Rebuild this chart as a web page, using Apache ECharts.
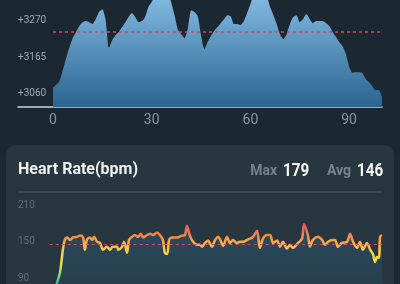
<!DOCTYPE html>
<html><head><meta charset="utf-8">
<script src="https://cdn.jsdelivr.net/npm/echarts@6/dist/echarts.min.js"></script>
<style>html,body{margin:0;padding:0;background:#1c2831;}#c{width:400px;height:284px;}</style>
</head><body><div id="c"></div>
<script>
// Altitude (top chart)
const altTime = [];
for (let i = 0; i <= 100; i++) altTime.push(i);
const altValues = [3077,3086,3097,3128,3162,3193,3219,3236,3253,3264,
  3267,3264,3259,3273,3293,3301,3270,3191,3213,3227,
  3236,3250,3264,3279,3290,3279,3264,3267,3279,3307,
  3321,3341,3361,3369,3361,3347,3318,3281,3242,3230,
  3219,3247,3298,3293,3281,3227,3188,3208,3225,3239,
  3250,3261,3273,3284,3281,3259,3259,3256,3267,3290,
  3315,3344,3364,3369,3361,3338,3307,3284,3259,3230,
  3216,3230,3259,3279,3284,3264,3273,3287,3273,3261,
  3267,3267,3267,3261,3253,3236,3222,3208,3196,3174,
  3139,3120,3122,3122,3120,3103,3094,3083,3071,3071,3051];
const altTicks = [3060, 3165, 3270];
const altAvg = 3238;
const timeTicks = [0, 30, 60, 90];

// Heart rate (bottom chart)
const hrTime = [0.6,1.2,2.1,3.0,3.6,4.3,5.2,6.1,7.3,8.2,
  9.1,9.7,10.3,11.2,11.9,12.5,13.4,14.3,15.2,16.4,
  17.3,18.2,19.5,19.8,21.0,21.6,22.5,23.1,24.0,24.9,
  25.8,26.7,27.4,28.6,29.5,30.4,31.6,32.5,33.4,34.0,
  34.7,35.3,36.2,37.7,39.2,40.1,40.7,41.6,42.6,43.8,
  44.7,45.3,46.2,47.1,48.3,49.2,50.2,51.1,51.7,52.9,
  53.8,54.7,55.9,56.8,57.8,59.0,59.9,60.8,62.0,62.9,
  63.8,65.0,66.0,66.9,68.1,69.0,69.9,71.1,72.0,72.9,
  74.5,75.7,76.3,77.5,78.1,79.0,80.5,81.8,82.7,83.6,
  84.8,85.7,86.6,87.8,89.4,90.3,91.2,92.4,93.3,94.2,
  95.4,96.4,97.3,97.9,98.5,99.1,99.4,100.0];
const hrBpm = [72,83,99,137,153,157,153,157,158,160,
  158,137,153,157,153,158,150,148,137,142,
  137,142,142,137,142,150,132,153,158,161,
  158,163,157,161,163,161,165,161,153,132,
  130,153,157,157,160,161,176,160,150,145,
  145,142,148,152,142,152,158,150,143,158,
  148,153,148,150,150,153,155,158,168,140,
  155,161,161,148,152,142,150,139,145,140,
  148,155,179,160,142,153,158,153,145,150,
  153,153,142,148,150,163,150,140,150,137,
  148,137,129,117,125,124,158,161];
const hrTicks = [90, 150, 210];
const hrMax = 179, hrAvg = 146;
const hrTitle = 'Heart Rate(bpm)';

const altData = altTime.map((t, i) => [t, altValues[i]]);
const hrData = hrTime.map((t, i) => [t, hrBpm[i]]);

const chart = echarts.init(document.getElementById('c'), null, {renderer: 'canvas'});
const font = 'Roboto, "Noto Sans", sans-serif';
chart.setOption({
  animation: false,
  backgroundColor: '#1c2831',
  textStyle: {fontFamily: font},
  graphic: [
    {type: 'rect', z: -10, shape: {x: 6, y: 145, width: 388, height: 170, r: 10}, style: {fill: '#28363f'}},
    {type: 'line', z: 1, shape: {x1: 18, y1: 192, x2: 382, y2: 192}, style: {stroke: '#4b5963', lineWidth: 1}},
    {type: 'text', z: 5, x: 18, y: 170, style: {text: hrTitle, fontSize: 16, fontWeight: 'bold', fontFamily: font, fill: '#eef2f4', textAlign: 'left', textVerticalAlign: 'middle'}},
    {type: 'text', z: 5, x: 277, y: 171, style: {text: 'Max', fontSize: 14, fontWeight: 'bold', fontFamily: font, fill: '#74838e', textAlign: 'right', textVerticalAlign: 'middle'}},
    {type: 'text', z: 5, x: 283, y: 171, scaleX: 0.8, style: {text: String(hrMax), fontSize: 19, fontWeight: 'bold', fontFamily: font, fill: '#f4f6f7', textAlign: 'left', textVerticalAlign: 'middle'}},
    {type: 'text', z: 5, x: 351, y: 171, style: {text: 'Avg', fontSize: 14, fontWeight: 'bold', fontFamily: font, fill: '#74838e', textAlign: 'right', textVerticalAlign: 'middle'}},
    {type: 'text', z: 5, x: 357, y: 171, scaleX: 0.8, style: {text: String(hrAvg), fontSize: 19, fontWeight: 'bold', fontFamily: font, fill: '#f4f6f7', textAlign: 'left', textVerticalAlign: 'middle'}}
  ],
  grid: [
    {left: 18, right: 18, top: 0, height: 107},
    {left: 18, right: 18, top: 205, height: 79}
  ],
  xAxis: [
    {type: 'value', gridIndex: 0, min: -10.64, max: 100,
     axisLine: {show: true, lineStyle: {color: '#c9d6dd', width: 1.5}},
     axisTick: {show: false}, splitLine: {show: false},
     axisLabel: {customValues: timeTicks, color: '#8796a0', fontSize: 14, margin: 6, fontFamily: font}},
    {type: 'value', gridIndex: 1, min: -10.64, max: 100, show: false}
  ],
  yAxis: [
    {type: 'value', gridIndex: 0, min: 3023, max: 3327,
     axisLine: {show: false}, axisTick: {show: false}, splitLine: {show: false},
     axisLabel: {customValues: altTicks, inside: true, margin: 0, color: '#9eabb4', fontSize: 10,
       formatter: v => '+' + String(Math.round(v)), fontFamily: font}},
    {type: 'value', gridIndex: 1, min: 81, max: 210,
     axisLine: {show: false}, axisTick: {show: false}, splitLine: {show: false},
     axisLabel: {customValues: hrTicks, inside: true, margin: 0, color: '#5f6f7a', fontSize: 10, fontFamily: font}}
  ],
  visualMap: [{
    type: 'continuous', show: false, seriesIndex: 1, dimension: 1,
    min: 70, max: 180,
    inRange: {color: ['#2f6fe0', '#3fc8a0', '#a8e060', '#f0e040', '#f8d440', '#f6b042', '#f07a4c', '#e4486a']}
  }],
  series: [
    {type: 'line', xAxisIndex: 0, yAxisIndex: 0, data: altData, symbol: 'none', smooth: 0.2,
     color: '#6fa9d6',
     lineStyle: {width: 0},
     areaStyle: {opacity: 1, color: new echarts.graphic.LinearGradient(0, 0, 0, 1, [
       {offset: 0, color: '#8ac2e9'}, {offset: 1, color: '#2b6490'}])},
     markLine: {silent: true, symbol: 'none', label: {show: false}, z: 10,
       lineStyle: {color: '#ee3d55', type: [3, 3], width: 1.5, opacity: 1},
       data: [[{coord: [0, altAvg]}, {coord: [100, altAvg]}]]}
    },
    {type: 'line', xAxisIndex: 1, yAxisIndex: 1, data: hrData, symbol: 'none', smooth: 0.3,
     lineStyle: {width: 2.5},
     areaStyle: {opacity: 1, color: new echarts.graphic.LinearGradient(0, 0, 0, 1, [
       {offset: 0, color: '#2b4b5e'}, {offset: 1, color: '#253e4d'}])},
     markLine: {silent: true, symbol: 'none', label: {show: false},
       lineStyle: {color: '#cf4f6a', type: [3, 3], width: 1},
       data: [[{coord: [-1, hrAvg]}, {coord: [100, hrAvg]}]]}
    }
  ]
});
</script>
</body></html>
